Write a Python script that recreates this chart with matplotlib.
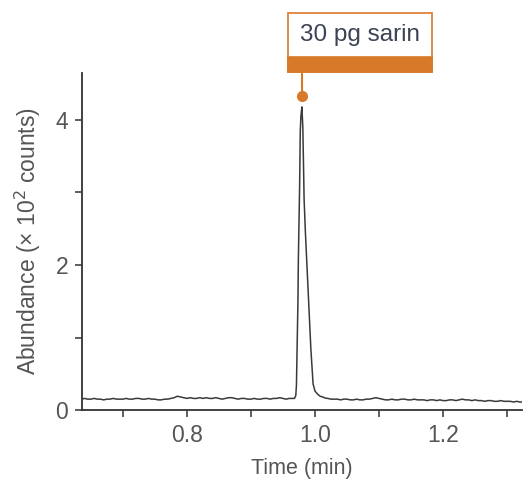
import numpy as np
import matplotlib

matplotlib.use("Agg")
import matplotlib.pyplot as plt
from matplotlib.patches import Rectangle

# baseline before the peak, sampled every 0.005 min from 0.635
left_start, left_step = 0.635, 0.005
left_vals = [
    0.15, 0.16, 0.15, 0.15, 0.16, 0.15, 0.15, 0.14, 0.15, 0.15, 0.16, 0.15, 0.15, 0.15,
    0.16, 0.15, 0.15, 0.16, 0.16, 0.15, 0.15, 0.16, 0.15, 0.15, 0.14, 0.14, 0.15, 0.15,
    0.16, 0.17, 0.19, 0.18, 0.17, 0.16, 0.17, 0.16, 0.16, 0.17, 0.16, 0.17, 0.16, 0.16,
    0.17, 0.16, 0.15, 0.16, 0.17, 0.17, 0.16, 0.15, 0.16, 0.16, 0.15, 0.15, 0.16, 0.15,
    0.15, 0.16, 0.16, 0.15, 0.16, 0.16, 0.17, 0.16, 0.15, 0.16, 0.16,
]

# the sarin peak
peak_times = [0.968, 0.970, 0.971, 0.972, 0.9734, 0.974, 0.975, 0.976, 0.977, 0.978,
              0.9795, 0.981, 0.982, 0.983, 0.985, 0.987, 0.990, 0.9935, 0.997, 1.000,
              1.004, 1.008, 1.012, 1.016, 1.020, 1.025, 1.030]
peak_vals = [0.16, 0.20, 0.34, 0.83, 1.52, 2.07, 2.60, 3.10, 3.85, 4.05,
             4.18, 3.90, 3.40, 2.90, 2.45, 2.07, 1.52, 0.85, 0.36, 0.26,
             0.22, 0.19, 0.18, 0.165, 0.16, 0.15, 0.15]

# baseline after the peak, sampled every 0.005 min from 1.035
right_start, right_step = 1.035, 0.005
right_vals = [
    0.15, 0.14, 0.15, 0.15, 0.14, 0.14, 0.15, 0.14, 0.14, 0.15, 0.15, 0.16, 0.17, 0.16,
    0.15, 0.14, 0.14, 0.15, 0.14, 0.14, 0.15, 0.15, 0.14, 0.14, 0.15, 0.14, 0.14, 0.14,
    0.13, 0.14, 0.14, 0.13, 0.14, 0.13, 0.13, 0.14, 0.14, 0.13, 0.14, 0.15, 0.14, 0.14,
    0.13, 0.14, 0.13, 0.13, 0.12, 0.13, 0.13, 0.12, 0.12, 0.13, 0.12, 0.12, 0.12, 0.11,
    0.12, 0.11, 0.11,
]

peak_label = "30 pg sarin"
x_major = [0.8, 1.0, 1.2]
x_minor = [0.7, 0.9, 1.1, 1.3]
y_major = [0, 2, 4]
y_minor = [1, 3]

left_times = left_start + left_step * np.arange(len(left_vals))
right_times = right_start + right_step * np.arange(len(right_vals))
times = np.concatenate([left_times, peak_times, right_times])
vals = np.concatenate([left_vals, peak_vals, right_vals])

ORANGE = "#d8792a"
TEXT = "#555555"
AXIS = "#333333"

plt.rcParams["font.family"] = ["Liberation Sans", "DejaVu Sans"]

fig = plt.figure(figsize=(5.25, 4.79), dpi=100)
ax = fig.add_axes([0.156, 0.144, 0.838, 0.704])

ax.plot(times, vals, color="#3a3a3a", linewidth=1.1)

ax.set_xlim(0.636, 1.323)
ax.set_ylim(0, 4.65)
ax.set_xticks(x_major)
ax.set_xticklabels(["{:.1f}".format(v) for v in x_major])
ax.set_xticks(x_minor, minor=True)
ax.set_yticks(y_major)
ax.set_yticks(y_minor, minor=True)

for side in ("top", "right"):
    ax.spines[side].set_visible(False)
for side in ("left", "bottom"):
    ax.spines[side].set_color(AXIS)
    ax.spines[side].set_linewidth(1.3)

ax.tick_params(which="both", direction="out", length=5, width=1.1, color=AXIS)
ax.tick_params(axis="x", which="major", labelsize=16.5, labelcolor=TEXT, pad=5)
ax.tick_params(axis="y", which="major", labelsize=16.5, labelcolor=TEXT, pad=5)

ax.set_xlabel("Time (min)", fontsize=15.5, color=TEXT, labelpad=8)
ax.set_ylabel("Abundance (\u00d7 10$^2$ counts)", fontsize=16.5, color=TEXT, labelpad=9)

# annotation: dot above the apex, line up to the label box
i_top = int(np.argmax(peak_vals))
t_top = peak_times[i_top]
ax.plot([t_top], [peak_vals[i_top] + 0.15], "o", color=ORANGE, markersize=7, clip_on=False, zorder=5)
ax.plot([t_top, t_top], [peak_vals[i_top] + 0.15, 4.66], color=ORANGE, linewidth=1.5, clip_on=False)

box_l, box_b, box_w, box_h = 0.5486, 0.8497, 0.2743, 0.1232
fig.patches.append(Rectangle((box_l, box_b), box_w, box_h, transform=fig.transFigure,
                             facecolor="white", edgecolor=ORANGE, linewidth=1.2))
fig.patches.append(Rectangle((box_l, box_b), box_w, 0.0313, transform=fig.transFigure,
                             facecolor=ORANGE, edgecolor=ORANGE, linewidth=1.2))
fig.text(box_l + box_w / 2, 0.927, peak_label, ha="center", va="center",
         fontsize=17.5, color="#3b4354")

fig.savefig("out.png", dpi=100)
